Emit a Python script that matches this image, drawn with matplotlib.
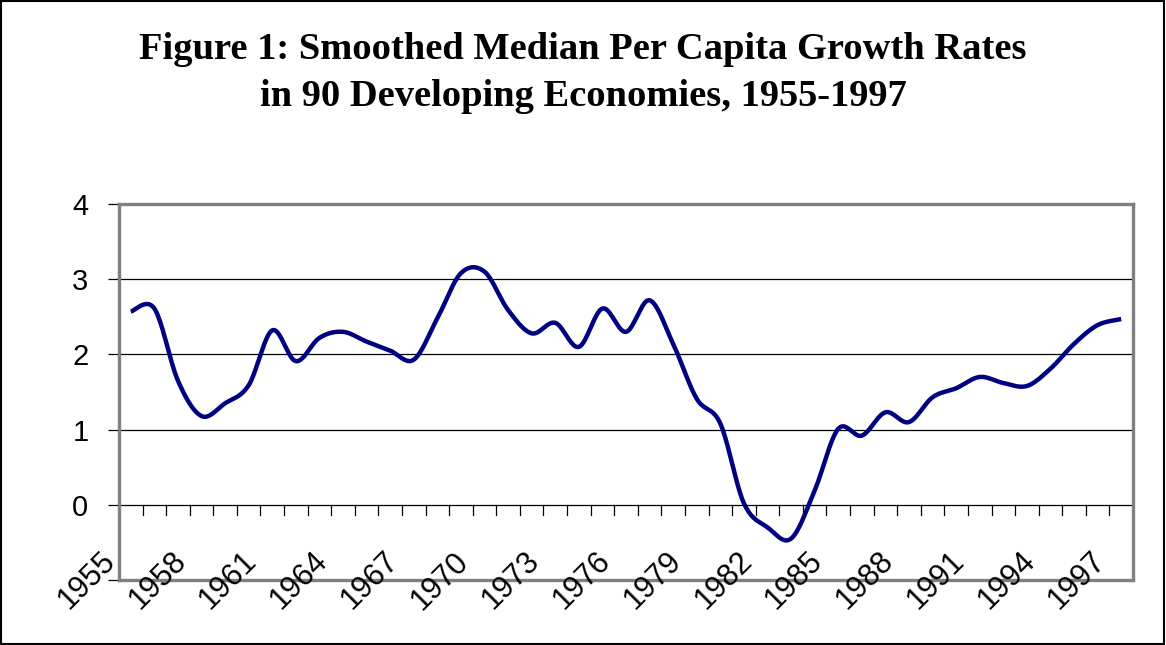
import numpy as np
import matplotlib
matplotlib.use("Agg")
import matplotlib.pyplot as plt
from matplotlib.patches import Rectangle

# data (smoothed median growth, percent)
years = list(range(1955, 1998))
growth = [2.57, 2.61, 1.65, 1.18, 1.35, 1.59, 2.32, 1.91, 2.22, 2.30,
          2.17, 2.05, 1.93, 2.48, 3.08, 3.10, 2.59, 2.28, 2.42, 2.10,
          2.61, 2.30, 2.72, 2.14, 1.41, 1.08, 0.02, -0.30, -0.45, 0.19,
          1.01, 0.92, 1.23, 1.10, 1.43, 1.55, 1.70, 1.62, 1.58, 1.81,
          2.14, 2.39, 2.47]
label_years = years[::3]
yticks = [-1, 0, 1, 2, 3, 4]

title_1 = "Figure 1: Smoothed Median Per Capita Growth Rates"
title_2 = "in 90 Developing Economies, 1955-1997"

LINE = "#000080"
FRAME = "#808080"
FONT = "Liberation Sans"


def smooth(x, y, n=20):
    # excel style smoothed line: bezier with control points at p1 + (p2 - p0) / 6
    x = np.asarray(x, float)
    y = np.asarray(y, float)
    px = np.concatenate([[x[0]], x, [x[-1]]])
    py = np.concatenate([[y[0]], y, [y[-1]]])
    xs, ys = [], []
    t = np.linspace(0, 1, n, endpoint=False)
    for i in range(1, len(px) - 2):
        b0 = np.array([px[i], py[i]])
        b3 = np.array([px[i + 1], py[i + 1]])
        b1 = b0 + (np.array([px[i + 1], py[i + 1]]) - np.array([px[i - 1], py[i - 1]])) / 6
        b2 = b3 - (np.array([px[i + 2], py[i + 2]]) - np.array([px[i], py[i]])) / 6
        pts = ((1 - t) ** 3)[:, None] * b0 + (3 * (1 - t) ** 2 * t)[:, None] * b1 \
            + (3 * (1 - t) * t ** 2)[:, None] * b2 + (t ** 3)[:, None] * b3
        xs.extend(pts[:, 0])
        ys.extend(pts[:, 1])
    xs.append(x[-1])
    ys.append(y[-1])
    return xs, ys


fig = plt.figure(figsize=(11.66, 6.45), dpi=100)
fig.patches.append(Rectangle((0.0005, 0.001), 0.998, 0.997, transform=fig.transFigure,
                             fill=False, edgecolor="black", linewidth=1.5))

fig.text(0.5, 1 - 59 / 645, title_1, ha="center", va="baseline",
         family="Liberation Serif", weight="bold", fontsize=27.7)
fig.text(0.5, 1 - 106 / 645, title_2, ha="center", va="baseline",
         family="Liberation Serif", weight="bold", fontsize=27.7)

ax = fig.add_axes([119 / 1166, 1 - 580 / 645, (1133 - 119) / 1166, (580 - 204) / 645])

idx = np.arange(len(years))
sx, sy = smooth(idx, growth)
ax.plot(sx, sy, color=LINE, linewidth=3.2, solid_capstyle="butt", zorder=3)

ax.set_xlim(-0.5, len(years) - 0.5)
ax.set_ylim(-1, 4)

# gridlines and the category axis at zero
for v in [1, 2, 3]:
    ax.axhline(v, color="black", linewidth=0.9, zorder=1)
ax.axhline(0, color="black", linewidth=0.9, zorder=2)
for b in np.arange(0.5, len(years), 1.0):
    ax.plot([b, b], [0, -0.13], color="black", linewidth=0.9, clip_on=False, zorder=2)

for s in ax.spines.values():
    s.set_color(FRAME)
    s.set_linewidth(2.4)

ax.set_xticks([])
ax.set_yticks(yticks)
ax.set_yticklabels(["" if v < 0 else str(v) for v in yticks], family=FONT, fontsize=21)
ax.tick_params(axis="y", direction="out", length=8, width=0.9, color="black", pad=14)

for yr in label_years:
    i = years.index(yr)
    ax.text(i - 0.4, -0.55, str(yr), rotation=45, ha="right", va="top",
            family=FONT, fontsize=22, clip_on=False)

fig.savefig("out.png", dpi=100)
